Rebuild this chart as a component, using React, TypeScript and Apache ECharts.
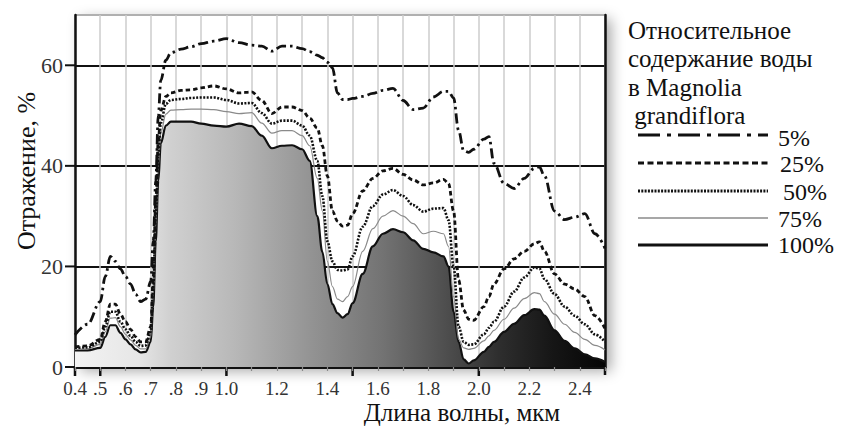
import React, { useEffect, useRef } from "react";
import * as echarts from "echarts";

// Wavelength, µm
const wavelengths = [
  0.4, 0.45, 0.5, 0.52, 0.54, 0.56, 0.58, 0.6, 0.62, 0.64, 0.66, 0.68, 0.7, 0.71, 0.72, 0.73, 0.74, 0.76, 0.78,
  0.82, 0.86, 0.9, 0.95, 1.0, 1.05, 1.1, 1.14, 1.18, 1.22, 1.26, 1.3, 1.33, 1.36, 1.38, 1.4, 1.42, 1.44, 1.46,
  1.48, 1.5, 1.54, 1.58, 1.62, 1.66, 1.7, 1.74, 1.78, 1.82, 1.86, 1.88, 1.9, 1.92, 1.94, 1.96, 1.98, 2.02, 2.04,
  2.06, 2.1, 2.14, 2.18, 2.22, 2.24, 2.26, 2.3, 2.34, 2.38, 2.42, 2.46, 2.5,
];

// Reflectance, % — relative water content 5%
const refl5 = [
  6.4, 8.5, 13, 18, 22, 21, 19.5, 18, 16.5, 14.5, 13, 13.5, 17, 25, 37, 50, 57, 61, 62.5,
  63.2, 63.7, 64.3, 64.8, 65.3, 64.5, 64, 63.8, 62.8, 63.8, 63.8, 63.3, 62.7, 62, 61.5, 60.6, 59.5, 54.5, 53.2,
  53.2, 53.4, 53.8, 54.4, 55, 55.4, 53, 51.2, 51.5, 53.7, 54.8, 54.8, 53.5, 47, 43, 42.7, 43.3, 45.3, 45.8,
  40.5, 36.5, 35.5, 37.5, 39.5, 39.8, 38, 31, 29.3, 29.8, 30.5, 26.5, 23.6,
];
// 25%
const refl25 = [
  4, 4.2, 5.5, 9, 12.5, 12.5, 10.5, 9, 7.5, 6, 5, 5, 8, 18, 33, 45, 51, 53.8, 54.5,
  55, 55.1, 55.5, 55.9, 55.3, 54.5, 54.7, 53, 50.4, 51.7, 51.7, 51, 49.5, 47.5, 44, 38, 31, 29, 28,
  28.2, 30.5, 35, 37.5, 39, 39.5, 38.3, 37.2, 36.2, 36.6, 37.3, 36.5, 31, 17.3, 11.3, 9.5, 9.3, 12, 14,
  16.5, 19.5, 21.5, 23, 24.5, 24.9, 23, 18.5, 16.5, 15.5, 14, 10.2, 7.7,
];
// 50%
const refl50 = [
  3.8, 3.9, 5, 8, 11, 11, 9, 7.5, 6.2, 5, 4.2, 4.3, 7, 16, 30, 42, 48.5, 52.3, 53.1,
  53.3, 53.5, 53.6, 53.6, 53.1, 52.4, 52.5, 50.5, 48.4, 49, 49, 48, 46, 41, 34, 25, 21, 19.3, 19.2,
  19.4, 22, 27.9, 32, 34.3, 35.2, 34, 32.2, 30.9, 31.5, 31.6, 29.2, 20, 8, 5, 4.4, 4.5, 6.5, 7.8,
  9, 12, 15, 17.8, 19.8, 19.6, 17.5, 14.5, 12, 10.2, 8.5, 6.5, 5,
];
// 75%
const refl75 = [
  3.5, 3.6, 4.5, 7, 9.7, 9.8, 8, 6.5, 5.4, 4.3, 3.6, 3.6, 6, 14, 28, 40, 46.5, 50.3, 51.1,
  51.2, 51.3, 51.3, 51.2, 50.8, 50.4, 50.6, 48.5, 46.5, 47, 47, 46, 44, 37.5, 31, 21, 16, 13.5, 13,
  14, 16, 23, 27.5, 30, 31.1, 30, 28.5, 26.5, 27, 26.5, 24, 14, 5.5, 3.8, 3.5, 3.7, 5.2, 6.2,
  7.3, 9.5, 11.7, 13.6, 14.8, 14.6, 13, 10.5, 8.5, 6.9, 5.5, 4.3, 3.4,
];
// 100%
const refl100 = [
  3.3, 3.3, 3.8, 6, 8.3, 8.3, 6.8, 5.5, 4.5, 3.5, 2.9, 3, 5, 12, 25, 37, 44.5, 48, 48.8,
  48.8, 48.8, 48.4, 48, 47.8, 48.4, 47.9, 46, 43.5, 44, 44.1, 43.3, 41, 30, 22.9, 16.5, 12.5, 10.7, 9.8,
  10.5, 12.7, 18.5, 24, 26.5, 27.4, 26.8, 25.2, 23.5, 22.8, 22, 20, 11, 5, 1.5, 0.7, 1.3, 3, 4,
  5, 7, 8.6, 10.3, 11.5, 11.4, 10.2, 7.3, 5.2, 3.7, 2.5, 1.7, 1,
];

const seriesNames = ["5%", "25%", "50%", "75%", "100%"];
const labeledXTicks = [0.4, 0.5, 0.6, 0.7, 0.8, 0.9, 1.0, 1.2, 1.4, 1.6, 1.8, 2.0, 2.2, 2.4];
const labeledXTexts = ["0.4", ".5", ".6", ".7", ".8", ".9", "1.0", "1.2", "1.4", "1.6", "1.8", "2.0", "2.2", "2.4"];
const majorXTicks = [0.4, 0.5, 1.0, 1.5, 2.0];
const yTicks = [0, 20, 40, 60];
const legendTitleLines = ["Относительное", "содержание воды", "в Magnolia", " grandiflora"];
const xAxisTitle = "Длина волны, мкм";
const yAxisTitle = "Отражение, %";

const FONT = "Liberation Serif";
const INK = "#111";

export default function App() {
  const ref = useRef<HTMLDivElement>(null);

  useEffect(() => {
    if (!ref.current) return;
    const chart = echarts.init(ref.current, undefined, { renderer: "svg" });
    const pairs = (vals: number[]) => wavelengths.map((w, i) => [w, vals[i]]);
    const valueSets = [refl5, refl25, refl50, refl75, refl100];
    const lineStyles: any[] = [
      { color: INK, width: 2.8, type: [10, 4, 2.5, 4] },
      { color: INK, width: 2.8, type: [4.5, 3] },
      { color: INK, width: 2.6, type: [2, 1.5] },
      { color: "#8a8a8a", width: 1.2, type: "solid" },
      { color: INK, width: 2.2, type: "solid" },
    ];

    const fill = new echarts.graphic.LinearGradient(0, 0, 1, 0, [
      { offset: 0, color: "#f3f3f3" },
      { offset: 0.12, color: "#e6e6e6" },
      { offset: 0.18, color: "#d0d0d0" },
      { offset: 0.3, color: "#b8b8b8" },
      { offset: 0.45, color: "#929292" },
      { offset: 0.58, color: "#737373" },
      { offset: 0.7, color: "#4e4e4e" },
      { offset: 0.8, color: "#2e2e2e" },
      { offset: 0.9, color: "#161616" },
      { offset: 1, color: "#050505" },
    ]);

    const series: any[] = [];
    const order = [4, 3, 2, 1, 0];
    order.forEach((i) => {
      series.push({
        name: seriesNames[i],
        type: "line",
        data: pairs(valueSets[i]),
        showSymbol: false,
        symbol: "none",
        smooth: 0.35,
        smoothMonotone: "x",
        lineStyle: lineStyles[i],
        areaStyle: i === 4 ? { color: fill, opacity: 1 } : undefined,
        z: 2 + (4 - i),
        silent: true,
      });
    });

    chart.setOption({
      animation: false,
      textStyle: { fontFamily: FONT },
      grid: {
        left: 75,
        right: 237,
        top: 15,
        bottom: 60,
        containLabel: false,
        outerBoundsMode: "none",
        show: true,
        backgroundColor: "#fff",
        borderWidth: 0,
        shadowBlur: 14,
        shadowColor: "rgba(0,0,0,0.35)",
        shadowOffsetX: 6,
        shadowOffsetY: 4,
      },
      xAxis: {
        type: "value",
        min: 0.4,
        max: 2.5,
        interval: 0.1,
        axisLine: { lineStyle: { color: INK, width: 3 } },
        axisTick: { show: true, length: 4, lineStyle: { color: "#8a8a8a", width: 1.2 } },
        axisLabel: {
          margin: 12,
          fontSize: 19,
          fontFamily: FONT,
          color: "#333",
          showMinLabel: true,
          showMaxLabel: true,
          formatter: (v: number) => {
            const k = Math.round(v * 10);
            const idx = labeledXTicks.findIndex((t) => Math.round(t * 10) === k);
            return idx >= 0 ? labeledXTexts[idx] : "";
          },
        },
        splitLine: { show: true, lineStyle: { color: "#cdcdcd", width: 1.5 } },
      },
      yAxis: [
        {
          type: "value",
          min: 0,
          max: 70,
          interval: 20,
          axisLine: { show: true, lineStyle: { color: INK, width: 2.5 } },
          axisTick: { show: false },
          axisLabel: {
            margin: 12,
            fontSize: 22,
            fontFamily: FONT,
            color: "#333",
            formatter: (v: number) => (yTicks.includes(v) ? String(v) : ""),
          },
          splitLine: {
            show: true,
            lineStyle: { color: [INK, INK, INK, INK, "#b0b0b0"], width: 1.8 },
          },
        },
        {
          type: "value",
          position: "right",
          min: 0,
          max: 70,
          interval: 20,
          axisLine: { show: true, lineStyle: { color: INK, width: 2.5 } },
          axisTick: { show: false },
          axisLabel: { show: false },
          splitLine: { show: false },
        },
      ],
      series,
    });

    const txt = (text: string, size: number, extra: any = {}) => ({
      text,
      fontSize: size,
      fontFamily: FONT,
      fill: INK,
      ...extra,
    });

    const elements: any[] = [];
    yTicks.forEach((v) => {
      const p = chart.convertToPixel({ xAxisIndex: 0, yAxisIndex: 0 }, [0.4, v]) as number[];
      elements.push({
        type: "line",
        shape: { x1: p[0] - 10, y1: p[1], x2: p[0], y2: p[1] },
        style: { stroke: INK, lineWidth: 2 },
        silent: true,
      });
    });
    majorXTicks.forEach((w) => {
      const p = chart.convertToPixel({ xAxisIndex: 0, yAxisIndex: 0 }, [w, 0]) as number[];
      elements.push({
        type: "line",
        shape: { x1: p[0], y1: p[1], x2: p[0], y2: p[1] + 9 },
        style: { stroke: INK, lineWidth: 2.5 },
        silent: true,
      });
    });
    {
      const p = chart.convertToPixel({ xAxisIndex: 0, yAxisIndex: 0 }, [2.5, 0]) as number[];
      elements.push({
        type: "line",
        shape: { x1: p[0], y1: p[1], x2: p[0], y2: p[1] + 8 },
        style: { stroke: INK, lineWidth: 2.5 },
        silent: true,
      });
    }
    elements.push({
      type: "text",
      x: 462,
      y: 412,
      style: txt(xAxisTitle, 25, { align: "center", verticalAlign: "middle" }),
      silent: true,
    });
    elements.push({
      type: "text",
      x: 26,
      y: 171,
      rotation: Math.PI / 2,
      style: txt(yAxisTitle, 26, { align: "center", verticalAlign: "middle" }),
      silent: true,
    });
    legendTitleLines.forEach((t, i) => {
      elements.push({
        type: "text",
        x: 628,
        y: 30 + i * 28.5,
        style: txt(t, 25, { align: "left", verticalAlign: "middle" }),
        silent: true,
      });
    });
    const legLineY = [135, 163, 191, 218, 245];
    const legTextX = [778, 780, 783, 778, 778];
    const legTextY = [138, 164, 192, 219, 245];
    const legDash: any[] = [[22, 7, 4, 7], [6, 3.5], [2, 1.3], null, null];
    seriesNames.forEach((name, i) => {
      elements.push({
        type: "line",
        shape: { x1: 638, y1: legLineY[i], x2: 768, y2: legLineY[i] },
        style: {
          stroke: lineStyles[i].color,
          lineWidth: i === 3 ? 1.4 : 2.8,
          lineDash: legDash[i] || undefined,
        },
        silent: true,
      });
      elements.push({
        type: "text",
        x: legTextX[i],
        y: legTextY[i],
        style: txt(name, 24, { align: "left", verticalAlign: "middle" }),
        silent: true,
      });
    });

    chart.setOption({ graphic: { elements } });

    return () => chart.dispose();
  }, []);

  return (
    <div
      ref={ref}
      style={{ position: "fixed", left: 0, top: 0, width: 842, height: 427, background: "#fff" }}
    />
  );
}
